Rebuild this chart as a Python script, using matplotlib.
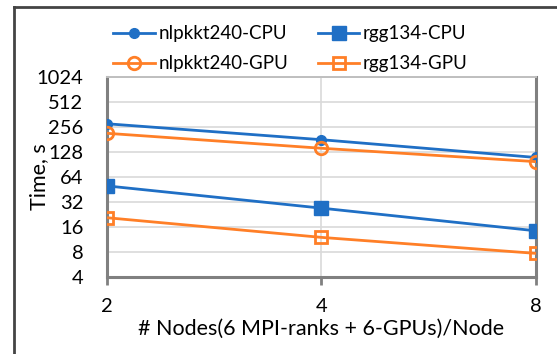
import matplotlib
matplotlib.use("Agg")
import matplotlib.pyplot as plt
from matplotlib.lines import Line2D
from matplotlib.ticker import FixedLocator, FixedFormatter, NullLocator

plt.rcParams['font.family'] = ['Lato', 'DejaVu Sans']

nodes = [2, 4, 8]
nlpkkt240_cpu = [280, 180, 110]
nlpkkt240_gpu = [215, 142, 98]
rgg134_cpu = [50, 27, 14.4]
rgg134_gpu = [20.7, 12, 7.7]
y_ticks = [4, 8, 16, 32, 64, 128, 256, 512, 1024]

blue = '#1f6fc5'
orange = '#ff7f27'
axis_gray = '#808080'
grid_gray = '#d9d9d9'

fig = plt.figure(figsize=(5.57, 3.54), dpi=100)
ax = fig.add_axes([0.192, 0.2175, 0.77, 0.565])

lw = 2.0
ax.plot(nodes, nlpkkt240_cpu, color=blue, lw=lw, marker='o', ms=7,
        mfc=blue, mec=blue, zorder=3)
ax.plot(nodes, rgg134_cpu, color=blue, lw=lw, marker='s', ms=10,
        mfc=blue, mec=blue, zorder=3)
ax.plot(nodes, nlpkkt240_gpu, color=orange, lw=lw, marker='o', ms=9,
        mfc='none', mec=orange, mew=2, zorder=3)
ax.plot(nodes, rgg134_gpu, color=orange, lw=lw, marker='s', ms=9,
        mfc='none', mec=orange, mew=2, zorder=3)

ax.set_xscale('log', base=2)
ax.set_yscale('log', base=2)
ax.set_xlim(2, 8)
ax.set_ylim(4, 1024)

ax.xaxis.set_major_locator(FixedLocator(nodes))
ax.xaxis.set_major_formatter(FixedFormatter([str(n) for n in nodes]))
ax.xaxis.set_minor_locator(NullLocator())
ax.yaxis.set_major_locator(FixedLocator(y_ticks))
ax.yaxis.set_major_formatter(FixedFormatter([str(t) for t in y_ticks]))
ax.yaxis.set_minor_locator(NullLocator())

ax.grid(True, which='major', color=grid_gray, lw=1.2, zorder=0)
ax.set_axisbelow(True)

for side in ('left', 'bottom', 'right'):
    ax.spines[side].set_color(axis_gray)
    ax.spines[side].set_linewidth(2.2)
ax.spines['top'].set_color('#bfbfbf')
ax.spines['top'].set_linewidth(1.4)

ax.tick_params(axis='y', length=0, labelsize=14.5, pad=17, colors='black')
ax.tick_params(axis='x', length=6, width=2, color=axis_gray, direction='out',
               labelsize=14.5, pad=9, labelcolor='black')

ax.set_xlabel('# Nodes(6 MPI-ranks + 6-GPUs)/Node', fontsize=15.5, labelpad=3)
ax.set_ylabel('Time, s', fontsize=15.5)
ax.yaxis.set_label_coords(-0.135, 0.5)

handles = [
    Line2D([], [], color=blue, lw=lw, marker='o', ms=7, mfc=blue, mec=blue),
    Line2D([], [], color=orange, lw=lw, marker='o', ms=9, mfc='none', mec=orange, mew=2),
    Line2D([], [], color=blue, lw=lw, marker='s', ms=10, mfc=blue, mec=blue),
    Line2D([], [], color=orange, lw=lw, marker='s', ms=9, mfc='none', mec=orange, mew=2),
]
labels = ['nlpkkt240-CPU', 'nlpkkt240-GPU', 'rgg134-CPU', 'rgg134-GPU']
fig.legend(handles, labels, ncol=2, loc='upper left',
           bbox_to_anchor=(0.19, 0.95), frameon=False, fontsize=13.5,
           handlelength=2.2, handletextpad=0.2, columnspacing=1.6,
           labelspacing=0.7, borderaxespad=0)

# outer frame lines along the left and top edges
fig.add_artist(Line2D([0.025, 0.025], [0, 0.98], transform=fig.transFigure,
                      color='#444444', lw=2))
fig.add_artist(Line2D([0.025, 1.0], [0.98, 0.98], transform=fig.transFigure,
                      color='#444444', lw=2))

fig.savefig('out.png', dpi=100)
